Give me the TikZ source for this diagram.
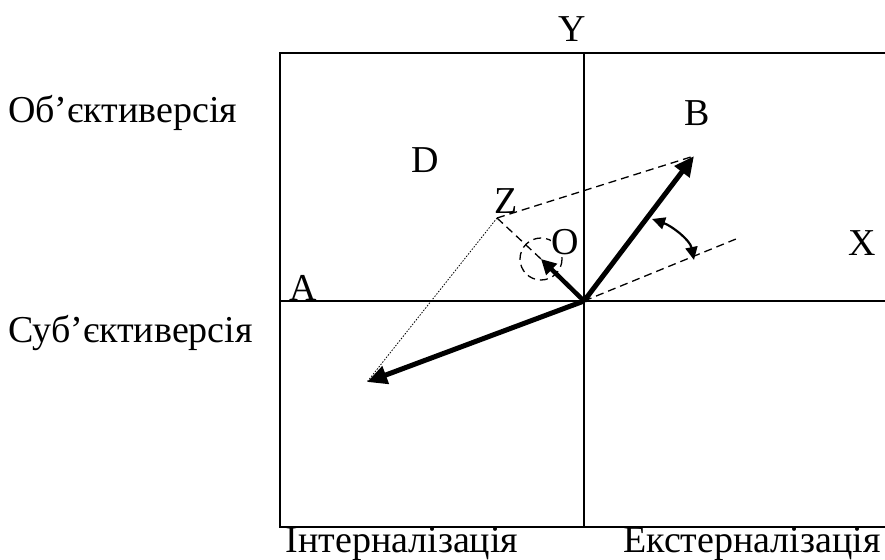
\documentclass[tikz,border=0pt]{standalone}
\usepackage{fontspec}
\setmainfont{Liberation Serif}
\usetikzlibrary{arrows.meta}
\begin{document}
\begin{tikzpicture}[x=1pt,y=-1pt,
  lbl/.style={font=\fontsize{38}{40}\selectfont, inner sep=0pt},
  frame/.style={line width=2pt},
  axis/.style={line width=1.6pt},
  vec/.style={line width=5pt, -{Triangle[length=20pt,width=18pt]}},
  dsh/.style={line width=1.3pt, dash pattern=on 8pt off 5pt},
  dot/.style={line width=0.8pt, dash pattern=on 1.5pt off 1.5pt}]
\useasboundingbox (0,0) rectangle (885,559);
% frame
\coordinate (TL) at (280,53);
\coordinate (TR) at (890,53);
\coordinate (BL) at (280,527);
\coordinate (BR) at (890,527);
\draw[frame] (TR) -- (TL) -- (BL) -- (BR);
% axes
\coordinate (O) at (584,301);
\coordinate (Yt) at (584,53);
\coordinate (Yb) at (584,527);
\coordinate (Xl) at (280,301);
\coordinate (Xr) at (890,301);
\draw[axis] (Yt) -- (Yb);
\draw[axis] (Xl) -- (Xr);
% points
\coordinate (Bt) at (694,156);
\coordinate (Zp) at (497,218);
\coordinate (Ot) at (541,259);
\coordinate (Lt) at (367,382);
\coordinate (Xe) at (736,239);
% dashed
\draw[dsh] (Zp) -- (Bt);
\draw[dsh] (Zp) -- (Ot);
\draw[dsh] (O) -- (Xe);
\draw[dsh] (541,259) circle (21);
\draw[dot] (Zp) -- (Lt);
% vectors
\draw[vec] (O) -- (Bt);
\draw[vec] (O) -- (Lt);
\draw[line width=4.5pt, -{Triangle[length=15pt,width=15pt]}] (O) -- (Ot);
% angle arc
\coordinate (Ca) at (652,219);
\coordinate (Cb) at (694,260);
\draw[line width=2.2pt, {Triangle[length=13pt,width=12pt]}-{Triangle[length=13pt,width=12pt]}] (Ca) .. controls (672,226) and (690,240) .. (Cb);
% labels
\node[lbl] (lY) at (572,29) {Y};
\node[lbl] (lB) at (697,113) {B};
\node[lbl] (lD) at (425,160) {D};
\node[lbl] (lZ) at (506,201) {Z};
\node[lbl,fill=white,inner sep=0.5pt] (lO) at (565,242) {O};
\node[lbl] (lX) at (862,243) {X};
\node[lbl] (lA) at (303,288) {A};
\node[lbl,anchor=west] (lOb) at (8,113) {Об’єктиверсія};
\node[lbl,anchor=west] (lSub) at (8,333) {Суб’єктиверсія};
\node[lbl,anchor=base] (lI) at (402,552) {Інтерналізація};
\node[lbl,anchor=base] (lE) at (752,552) {Екстерналізація};
\end{tikzpicture}
\end{document}
